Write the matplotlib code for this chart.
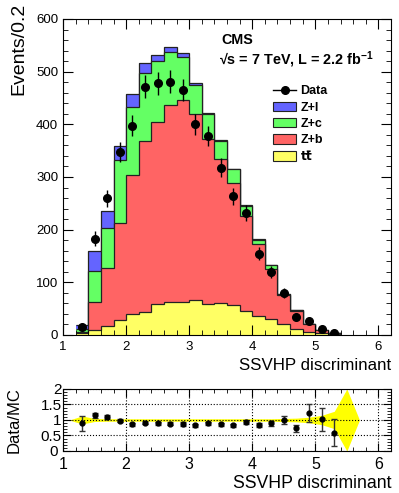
import numpy as np
import matplotlib.pyplot as plt
import matplotlib.transforms as mtransforms
from matplotlib.patches import Patch
from matplotlib.lines import Line2D
from matplotlib.ticker import MultipleLocator

plt.rcParams['font.family'] = ['Liberation Sans', 'DejaVu Sans']
plt.rcParams['mathtext.fontset'] = 'custom'
plt.rcParams['mathtext.rm'] = 'Liberation Sans'
plt.rcParams['mathtext.bf'] = 'Liberation Sans:bold'

# --- binning (SSVHP discriminant, 0.2 wide bins) ---
bin_edges = np.round(np.arange(1.2, 5.41, 0.2), 1)
bin_centers = np.round(bin_edges[:-1] + 0.1, 1)

# --- MC components (events per bin) ---
ttbar = [3, 9, 18, 28, 40, 44, 58, 63, 63, 67, 59, 60, 57, 46, 36, 30, 21, 12, 6, 4, 1]
z_b = [3, 54, 109, 184, 264, 325, 347, 374, 383, 353, 313, 274, 232, 180, 137, 95, 54, 34, 14, 5, 3]
z_c = [5, 59, 77, 120, 129, 129, 116, 100, 81, 55, 47, 34, 26, 19, 8, 7, 2, 1, 1, 0.5, 0.5]
z_l = [8, 37, 32, 27, 24, 18, 10, 9, 8, 3, 3, 2, 1, 1, 1, 1, 0.5, 0.5, 0.3, 0.2, 0.2]

# --- data ---
data = [16, 183, 260, 348, 397, 471, 478, 481, 465, 400, 378, 318, 263, 231, 154, 120, 80, 35, 26, 11, 3]

# --- ratio panel ---
ratio = [0.89, 1.15, 1.10, 0.97, 0.86, 0.91, 0.89, 0.88, 0.87, 0.83, 0.89, 0.86, 0.83, 0.93,
         0.84, 0.90, 1.01, 0.73, 1.22, 1.02, 0.59]
ratio_err = [0.25, 0.07, 0.06, 0.05, 0.05, 0.05, 0.05, 0.05, 0.05, 0.05, 0.05, 0.05, 0.05, 0.06,
             0.07, 0.08, 0.13, 0.11, 0.28, 0.38, 0.43]
band_x = [1.1, 1.3, 1.5, 1.7, 1.9, 2.1, 2.3, 2.5, 2.7, 2.9, 3.1, 3.3, 3.5, 3.7, 3.9, 4.1, 4.3,
          4.5, 4.7, 4.9, 5.1, 5.3, 5.5, 5.7]
band_unc = [0.0, 0.13, 0.05, 0.04, 0.04, 0.04, 0.04, 0.04, 0.04, 0.04, 0.04, 0.04, 0.04, 0.04,
            0.04, 0.04, 0.04, 0.05, 0.06, 0.09, 0.15, 0.28, 1.0, 0.0]

COL_L = '#6464ff'
COL_C = '#64ff64'
COL_B = '#ff6464'
COL_T = '#ffff64'

fig = plt.figure(figsize=(3.99, 4.93), dpi=100)
ax = fig.add_axes([0.158, 0.3205, 0.822, 0.641])
rax = fig.add_axes([0.158, 0.0852, 0.822, 0.1258])

# stacked histogram, drawn from the top layer down
c1 = np.array(ttbar, dtype=float)
c2 = c1 + np.array(z_b)
c3 = c2 + np.array(z_c)
c4 = c3 + np.array(z_l)
for cum, col in [(c4, COL_L), (c3, COL_C), (c2, COL_B), (c1, COL_T)]:
    ax.stairs(cum, bin_edges, baseline=0, fill=True, facecolor=col,
              edgecolor='none')
    ax.stairs(cum, bin_edges, baseline=None, color='#222222', lw=0.9)

ax.errorbar(bin_centers, data, yerr=np.sqrt(data), fmt='o', color='black',
            ms=5.5, lw=1.0, capsize=0, zorder=5)

ax.set_xlim(1, 6.2)
ax.set_ylim(0, 600)
ax.xaxis.set_major_locator(MultipleLocator(1))
ax.xaxis.set_minor_locator(MultipleLocator(0.2))
ax.yaxis.set_major_locator(MultipleLocator(100))
ax.yaxis.set_minor_locator(MultipleLocator(20))
ax.tick_params(which='both', direction='in', top=True, right=True, labelsize=9.5)
ax.tick_params(which='major', length=7)
ax.tick_params(which='minor', length=3.5)
ax.tick_params(axis='x', pad=4)
ax.set_ylabel('Events/0.2', fontsize=14, loc='top')
ax.yaxis.set_label_coords(-0.108, 1.05)
ax.set_xlabel('SSVHP discriminant', fontsize=12.2, loc='right')
ax.xaxis.set_label_coords(1.0, -0.072)

fig.text(0.555, 0.919, 'CMS', fontsize=10.3, fontweight='bold', ha='left', va='center')
fig.text(0.548, 0.878, '\u221as = 7 TeV, L = 2.2 fb$^{\\mathbf{-1}}$', fontsize=10.4,
         fontweight='bold', ha='left', va='center')

handles = [Line2D([0], [0], color='black', marker='o', ms=5.5, lw=1.0),
           Patch(facecolor=COL_L, edgecolor='#222222', lw=0.8),
           Patch(facecolor=COL_C, edgecolor='#222222', lw=0.8),
           Patch(facecolor=COL_B, edgecolor='#222222', lw=0.8),
           Patch(facecolor=COL_T, edgecolor='#222222', lw=0.8)]
labels = ['Data', 'Z+l', 'Z+c', 'Z+b', 'tt\u0304']
ax.legend(handles, labels, loc='upper left', bbox_to_anchor=(0.625, 0.806),
          frameon=False, prop={'weight': 'bold', 'size': 9,
                               'family': ['DejaVu Sans']}, handlelength=1.85,
          handleheight=0.8, handletextpad=0.35, labelspacing=0.33, borderaxespad=0)
for t in ax.get_legend().get_texts()[:4]:
    t.set_fontfamily(['Liberation Sans', 'DejaVu Sans'])

# ratio panel
rax.fill_between(band_x, np.array(band_unc) * -1 + 1, np.array(band_unc) + 1,
                 color='#ffff00', lw=0, zorder=1)
rax.errorbar(bin_centers, ratio, yerr=ratio_err, fmt='o', color='black', ecolor='#333333',
             ms=3.5, lw=1.0, capsize=2, zorder=5)
rax.set_xlim(1, 6.2)
rax.set_ylim(0, 2)
rax.set_yticks([0, 0.5, 1, 1.5, 2])
rax.set_yticklabels(['0', '0.5', '1', '1.5', '2'])
rax.xaxis.set_major_locator(MultipleLocator(1))
rax.xaxis.set_minor_locator(MultipleLocator(0.2))
rax.yaxis.set_minor_locator(MultipleLocator(0.1))
rax.grid(True, which='major', color='black', linestyle=':', lw=0.8)
rax.tick_params(which='both', direction='in', top=True, right=True, labelsize=11)
rax.tick_params(axis='x', labelsize=11.5)
rax.tick_params(which='major', length=6)
rax.tick_params(which='minor', length=3)
rax.tick_params(axis='y', pad=1)
rax.tick_params(axis='x', pad=4)
# push the "0" label a little left so it clears the x label "1"
shift = mtransforms.ScaledTranslation(-4 / 100, 0, fig.dpi_scale_trans)
zero_lbl = rax.get_yticklabels()[0]
zero_lbl.set_transform(zero_lbl.get_transform() + shift)
rax.set_ylabel('Data/MC', fontsize=12, labelpad=2)
rax.yaxis.set_label_coords(-0.125, 0.5)
rax.set_xlabel('SSVHP discriminant', fontsize=12.7, loc='right')
rax.xaxis.set_label_coords(1.0, -0.38)

plt.savefig('out.png', dpi=100)
